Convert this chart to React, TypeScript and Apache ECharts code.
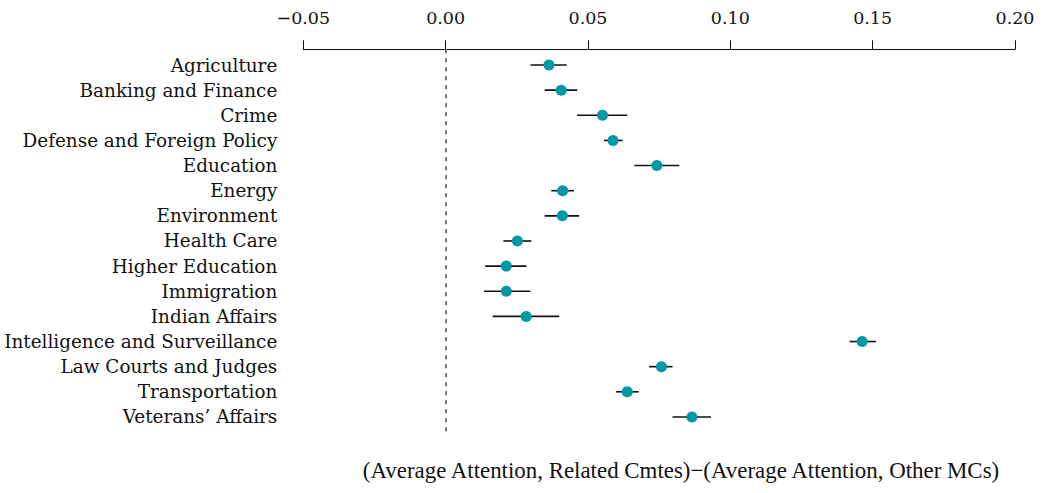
import React, { useEffect, useRef } from "react";
import * as echarts from "echarts";

// Policy areas, top to bottom
const categories = [
  "Agriculture",
  "Banking and Finance",
  "Crime",
  "Defense and Foreign Policy",
  "Education",
  "Energy",
  "Environment",
  "Health Care",
  "Higher Education",
  "Immigration",
  "Indian Affairs",
  "Intelligence and Surveillance",
  "Law Courts and Judges",
  "Transportation",
  "Veterans’ Affairs",
];

// Point estimates and interval bounds
const estimates = [
  0.0363, 0.0406, 0.0551, 0.0588, 0.0742, 0.0411, 0.041, 0.0252, 0.0213,
  0.0213, 0.0283, 0.1463, 0.0758, 0.0638, 0.0865,
];
const lower = [
  0.0298, 0.0348, 0.0462, 0.0556, 0.0663, 0.0371, 0.0348, 0.0203, 0.0139,
  0.0135, 0.0165, 0.1419, 0.0715, 0.0599, 0.0797,
];
const upper = [
  0.0425, 0.0462, 0.0638, 0.0622, 0.0821, 0.0451, 0.0469, 0.0301, 0.0284,
  0.0298, 0.0399, 0.1512, 0.0797, 0.0678, 0.0932,
];

const xMin = -0.05;
const xMax = 0.2;
const xStep = 0.05;

const axisTitle =
  "(Average Attention, Related Cmtes)−(Average Attention, Other MCs)";

const SERIF = "'DejaVu Serif', serif";
const TEAL = "#0097a7";
const INK = "#111111";

export default function App() {
  const ref = useRef<HTMLDivElement>(null);

  useEffect(() => {
    if (!ref.current) return;
    const chart = echarts.init(ref.current, null, { renderer: "svg" });

    chart.setOption({
      animation: false,
      backgroundColor: "#ffffff",
      grid: { left: 303.3, right: 28, top: 49.3, bottom: 57.2 },
      xAxis: {
        type: "value",
        position: "top",
        min: xMin,
        max: xMax,
        interval: xStep,
        splitLine: { show: false },
        axisLine: {
          show: true,
          onZero: false,
          lineStyle: { color: INK, width: 1 },
        },
        axisTick: { show: true, length: 9, lineStyle: { color: INK, width: 1 } },
        axisLabel: {
          margin: 22,
          color: INK,
          fontFamily: SERIF,
          fontSize: 17.5,
          formatter: (v: number) => v.toFixed(2).replace("-", "−"),
        },
      },
      yAxis: {
        type: "value",
        inverse: true,
        min: -0.625,
        max: 14.75,
        show: false,
      },
      series: [
        {
          type: "custom",
          clip: false,
          data: categories.map((_, i) => [lower[i], upper[i], i]),
          encode: { x: [0, 1], y: 2 },
          renderItem: (params: any, api: any) => {
            const a = api.coord([api.value(0), api.value(2)]);
            const b = api.coord([api.value(1), api.value(2)]);
            return {
              type: "line",
              shape: { x1: a[0], y1: a[1], x2: b[0], y2: b[1] },
              style: { stroke: INK, lineWidth: 1.6 },
            };
          },
          z: 2,
        },
        {
          type: "scatter",
          data: estimates.map((v, i) => [v, i]),
          symbol: "circle",
          symbolSize: 11,
          itemStyle: { color: TEAL, opacity: 1 },
          z: 3,
          markLine: {
            silent: true,
            symbol: "none",
            label: { show: false },
            lineStyle: { color: "#777777", width: 2, type: [4, 5] },
            data: [{ xAxis: 0 }],
          },
        },
        {
          type: "custom",
          clip: false,
          data: categories.map((_, i) => [xMin, i]),
          encode: { x: 0, y: 1 },
          renderItem: (params: any, api: any) => {
            const p = api.coord([api.value(0), api.value(1)]);
            return {
              type: "text",
              x: p[0] - 26,
              y: p[1],
              style: {
                text: categories[params.dataIndex],
                fill: INK,
                fontFamily: SERIF,
                fontSize: 18.4,
                align: "right",
                verticalAlign: "middle",
              },
            };
          },
        },
      ],
      graphic: [
        {
          type: "text",
          x: 681,
          y: 470,
          style: {
            text: axisTitle,
            fill: INK,
            fontFamily: "'Liberation Serif', serif",
            fontSize: 22.9,
            align: "center",
            verticalAlign: "middle",
          },
        },
      ],
    });

    return () => chart.dispose();
  }, []);

  return (
    <div
      ref={ref}
      style={{ position: "fixed", left: 0, top: 0, width: 1043, height: 493 }}
    />
  );
}
